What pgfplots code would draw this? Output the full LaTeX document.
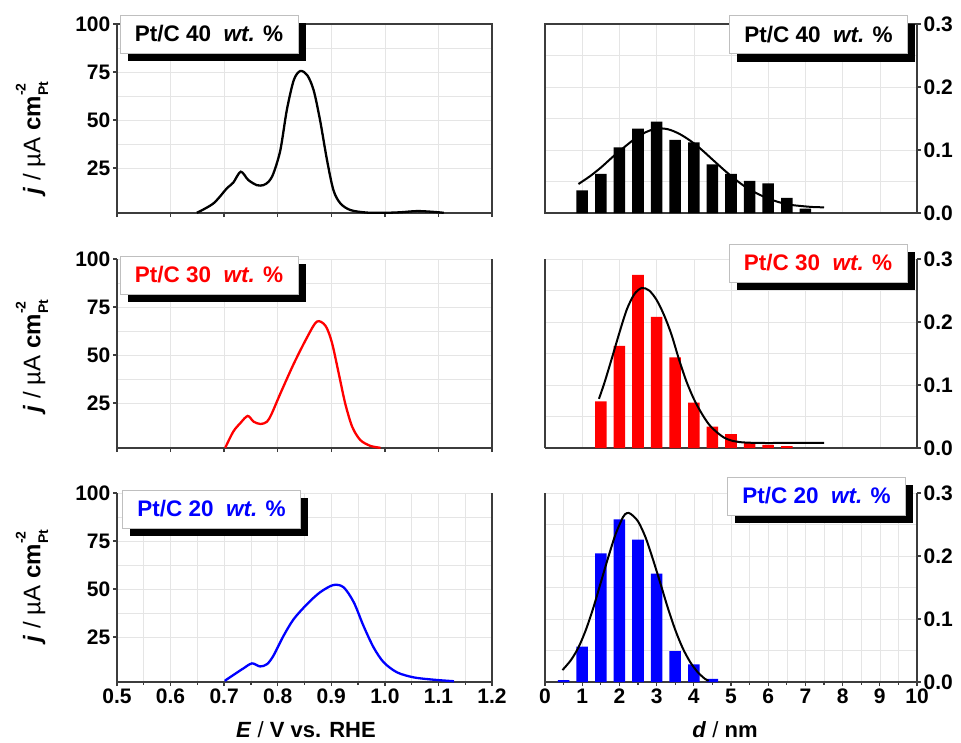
\documentclass[border=0pt]{standalone}
\usepackage{fontspec}
\setmainfont{Liberation Sans}
\usepackage{pgfplots}
\pgfplotsset{compat=1.18}
\usetikzlibrary{shadows}
\definecolor{axgray}{RGB}{60,60,60}
\definecolor{pred}{RGB}{255,0,0}
\definecolor{pblue}{RGB}{0,0,255}
\pgfplotsset{
  base/.style={scale only axis, height=189pt, tick align=outside,
    axis line style={draw=axgray, line width=1.3pt},
    tick style={draw=axgray, line width=1.3pt},
    major tick length=4pt, minor tick length=2.5pt,
    major grid style={draw=black!10, line width=0.6pt},
    minor grid style={draw=black!10, line width=0.6pt},
    xmajorgrids, ymajorgrids, yminorgrids,
    minor y tick num=1, minor y tick style={draw=none},
    tick label style={font=\bfseries\fontsize{21}{24}\selectfont, inner sep=2.5pt},
    /pgf/number format/assume math mode=true,
  },
  leftax/.style={base, width=375pt, xmin=0.5, xmax=1.2, ymin=1.6, ymax=100,
    xtick={0.5,0.6,0.7,0.8,0.9,1.0,1.1,1.2}, ytick={25,50,75,100},
    xticklabel style={/pgf/number format/.cd, fixed, fixed zerofill, precision=1},
  },
  rightax/.style={base, width=372pt, xmin=0, xmax=10, ymin=0, ymax=0.3,
    xtick={0,1,2,3,4,5,6,7,8,9,10}, ytick={0,0.1,0.2,0.3},
    yticklabel style={/pgf/number format/.cd, fixed, fixed zerofill, precision=1},
  },
}
\tikzset{
  legbox/.style={draw=black!25, line width=0.6pt, fill=white, minimum width=178pt,
    minimum height=38pt, inner sep=0pt, font=\bfseries\fontsize{22.5}{26}\selectfont,
    drop shadow={shadow xshift=7.5pt, shadow yshift=-8pt, fill=black, opacity=1}},
}
\newcommand{\ylab}{\textbf{\textit{j}} / µA \textbf{cm}\makebox[0pt][l]{\raisebox{0.62em}{\bfseries\fontsize{14}{14}\selectfont -2}}\raisebox{-0.32em}{\bfseries\fontsize{14}{14}\selectfont Pt}}
\begin{document}
\begin{tikzpicture}
\path[use as bounding box] (0,0) rectangle (961pt,-742pt);

% ---------- top left ----------
\begin{axis}[leftax, at={(117pt,-213pt)}, anchor=south west,
  xticklabels={}, xtick pos=left, ytick pos=left]
\addplot[black, line width=2.3pt, smooth] coordinates {
(0.649,1.7) (0.680,6.6) (0.705,14.4) (0.717,17.4) (0.731,23.1) (0.745,18.8)
(0.761,16.1) (0.773,16.1) (0.783,17.9) (0.792,22.2) (0.805,34.4) (0.817,55.2)
(0.830,70.8) (0.842,75.5) (0.855,73.4) (0.867,65.6) (0.879,50.0) (0.892,29.2)
(0.904,13.5) (0.917,6.6) (0.936,3.1) (0.967,1.8) (1.000,1.7) (1.030,2.0)
(1.060,2.6) (1.090,2.2) (1.110,1.7)};
\end{axis}

% ---------- top right ----------
\begin{axis}[rightax, at={(545pt,-213pt)}, anchor=south west,
  xticklabels={}, xtick style={draw=none}, ytick pos=right, yticklabel pos=right]
\addplot[ybar, bar width=0.31, fill=black, draw=none] coordinates {
(1.0,0.036) (1.5,0.062) (2.0,0.104) (2.5,0.134) (3.0,0.145) (3.5,0.116)
(4.0,0.112) (4.5,0.077) (5.0,0.062) (5.5,0.051) (6.0,0.047) (6.5,0.024) (7.0,0.007)};
\addplot[black, line width=2pt, smooth] coordinates {
(0.9,0.046) (1.2,0.058) (1.5,0.072) (1.8,0.088) (2.1,0.103) (2.4,0.117)
(2.7,0.128) (3.0,0.134) (3.3,0.133) (3.6,0.126) (3.9,0.115) (4.2,0.101)
(4.5,0.085) (4.8,0.069) (5.1,0.054) (5.4,0.041) (5.7,0.031) (6.0,0.023)
(6.3,0.017) (6.6,0.013) (6.9,0.011) (7.2,0.0095) (7.5,0.009)};
\end{axis}

% ---------- middle left ----------
\begin{axis}[leftax, at={(117pt,-448pt)}, anchor=south west,
  axis x line*=bottom, axis y line*=box,
  xticklabels={}, xtick pos=left, ytick pos=left]
\addplot[pred, line width=2.3pt, smooth] coordinates {
(0.702,1.7) (0.717,10.1) (0.730,14.5) (0.744,18.3) (0.755,15.3) (0.768,14.1)
(0.780,15.3) (0.789,19.6) (0.805,30.0) (0.830,45.5) (0.855,59.3) (0.873,67.4)
(0.889,65.3) (0.901,56.7) (0.914,40.3) (0.926,24.8) (0.939,12.7) (0.954,5.8)
(0.973,2.7) (0.992,1.7)};
\end{axis}

% ---------- middle right ----------
\begin{axis}[rightax, at={(545pt,-448pt)}, anchor=south west,
  axis x line*=bottom, axis y line*=box,
  xticklabels={}, xtick style={draw=none}, ytick pos=right, yticklabel pos=right]
\addplot[ybar, bar width=0.31, fill=pred, draw=none] coordinates {
(1.5,0.074) (2.0,0.162) (2.5,0.275) (3.0,0.208) (3.5,0.144) (4.0,0.072)
(4.5,0.034) (5.0,0.022) (5.5,0.008) (6.0,0.005) (6.5,0.003)};
\addplot[black, line width=2pt, smooth] coordinates {
(1.45,0.078) (1.6,0.104) (1.8,0.143) (2.0,0.183) (2.2,0.220) (2.4,0.244)
(2.6,0.254) (2.8,0.250) (3.0,0.235) (3.2,0.211) (3.4,0.180) (3.6,0.141)
(3.8,0.106) (4.0,0.078) (4.2,0.056) (4.4,0.038) (4.6,0.026) (4.8,0.017)
(5.0,0.012) (5.3,0.009) (5.8,0.008) (6.5,0.008) (7.5,0.008)};
\end{axis}

% ---------- bottom left ----------
\begin{axis}[leftax, at={(117pt,-682pt)}, anchor=south west,
  axis x line*=bottom, axis y line*=box,
  xtick pos=left, ytick pos=left, minor x tick num=1, xminorgrids]
\addplot[pblue, line width=2.3pt, smooth] coordinates {
(0.701,2.2) (0.717,5.2) (0.736,8.7) (0.752,11.3) (0.767,9.7) (0.780,10.9)
(0.792,15.3) (0.811,25.7) (0.830,34.4) (0.855,42.2) (0.879,48.3) (0.904,52.1)
(0.923,50.9) (0.942,43.1) (0.960,30.9) (0.979,19.6) (0.998,11.8) (1.023,6.6)
(1.054,4.0) (1.091,2.8) (1.129,2.0)};
\end{axis}

% ---------- bottom right ----------
\begin{axis}[rightax, at={(545pt,-682pt)}, anchor=south west,
  axis x line*=bottom, axis y line*=box,
  xtick pos=left, ytick pos=right, yticklabel pos=right, minor x tick num=1, xminorgrids]
\addplot[ybar, bar width=0.31, fill=pblue, draw=none] coordinates {
(0.5,0.003) (1.0,0.056) (1.5,0.204) (2.0,0.258) (2.5,0.226) (3.0,0.172)
(3.5,0.049) (4.0,0.028) (4.5,0.005)};
\addplot[black, line width=2pt, smooth] coordinates {
(0.47,0.019) (0.7,0.035) (0.9,0.055) (1.1,0.083) (1.3,0.118) (1.5,0.158)
(1.7,0.198) (1.9,0.235) (2.1,0.262) (2.2,0.268) (2.3,0.267) (2.5,0.255)
(2.7,0.230) (2.9,0.195) (3.1,0.157) (3.3,0.118) (3.5,0.083) (3.7,0.054)
(3.9,0.032) (4.1,0.016) (4.3,0.005) (4.4,0.002)};
\end{axis}

% ---------- legends ----------
\node[legbox, text=black] at (209pt,-34pt) {Pt/C 40\ \ \textit{wt.} \%};
\node[legbox, text=black] at (818.5pt,-34.5pt) {Pt/C 40\ \ \textit{wt.} \%};
\node[legbox, text=pred] at (209pt,-275pt) {Pt/C 30\ \ \textit{wt.} \%};
\node[legbox, text=pred] at (818pt,-263pt) {Pt/C 30\ \ \textit{wt.} \%};
\node[legbox, text=pblue] at (211.5pt,-509pt) {Pt/C 20\ \ \textit{wt.} \%};
\node[legbox, text=pblue] at (816.5pt,-496pt) {Pt/C 20\ \ \textit{wt.} \%};

% ---------- axis labels ----------
\node[rotate=90, font=\fontsize{24}{28}\selectfont] at (32pt,-138pt) {\ylab};
\node[rotate=90, font=\fontsize{24}{28}\selectfont] at (32pt,-356pt) {\ylab};
\node[rotate=90, font=\fontsize{24}{28}\selectfont] at (32pt,-586pt) {\ylab};
\node[anchor=base, font=\fontsize{22}{26}\selectfont] at (306pt,-737pt) {\textbf{\textit{E}} / \textbf{V vs. RHE}};
\node[anchor=base, font=\fontsize{22}{26}\selectfont] at (725pt,-737pt) {\textbf{\textit{d}} / \textbf{nm}};
\end{tikzpicture}
\end{document}
